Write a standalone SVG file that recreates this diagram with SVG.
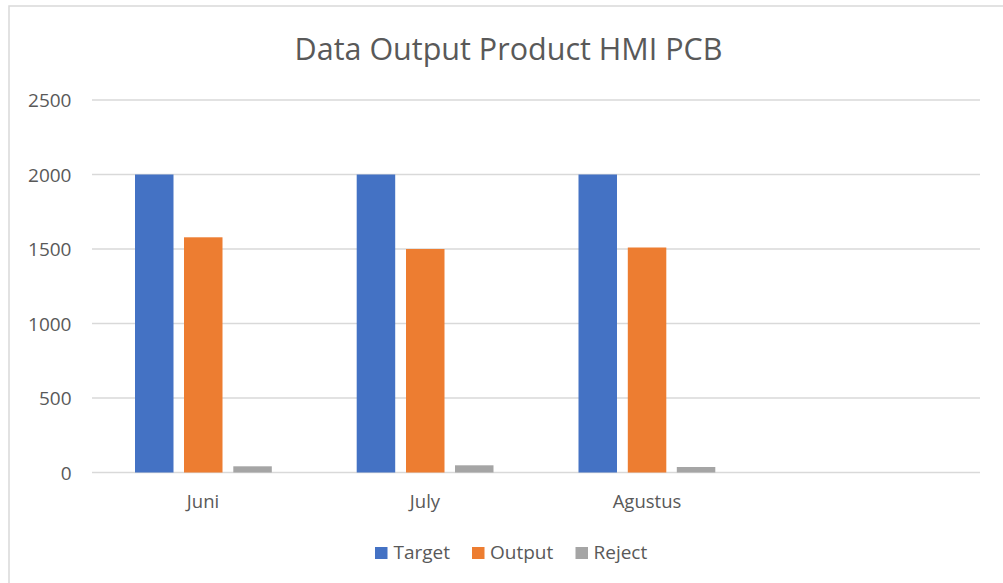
<svg xmlns="http://www.w3.org/2000/svg" width="1003" height="583" viewBox="0 0 1003 583">
<style>
text{font-family:"Open Sans","Liberation Sans",sans-serif;fill:#595959}
.grid{stroke:#d9d9d9;stroke-width:1.5}
.ax{font-size:19px;text-anchor:end}
.cat{font-size:18.5px;text-anchor:middle}
.leg{font-size:19px}
.t{fill:#4472c4}.o{fill:#ed7d31}.r{fill:#a5a5a5}
</style>
<rect x="0" y="0" width="1003" height="583" fill="#fff"/>
<rect x="9" y="6" width="1010" height="600" fill="none" stroke="#d9d9d9" stroke-width="1.5"/>
<text x="508.5" y="60" font-size="30.5" text-anchor="middle">Data Output Product HMI PCB</text>
<g id="gridlines">
<line class="grid" x1="92" y1="100" x2="980" y2="100"/>
<line class="grid" x1="92" y1="174.5" x2="980" y2="174.5"/>
<line class="grid" x1="92" y1="249" x2="980" y2="249"/>
<line class="grid" x1="92" y1="323.5" x2="980" y2="323.5"/>
<line class="grid" x1="92" y1="398" x2="980" y2="398"/>
<line class="grid" x1="92" y1="472.5" x2="980" y2="472.5"/>
</g>
<g id="yaxis">
<text class="ax" x="71.5" y="107">2500</text>
<text class="ax" x="71.5" y="181.5">2000</text>
<text class="ax" x="71.5" y="256">1500</text>
<text class="ax" x="71.5" y="330.5">1000</text>
<text class="ax" x="71.5" y="405">500</text>
<text class="ax" x="71.5" y="479.5">0</text>
</g>
<g id="juni">
<rect class="t" x="135" y="174.5" width="38.5" height="298"/>
<rect class="o" x="184" y="237.3" width="38.5" height="235.2"/>
<rect class="r" x="233.3" y="466.3" width="38.5" height="6.2"/>
<text class="cat" x="203" y="508">Juni</text>
</g>
<g id="july">
<rect class="t" x="356.7" y="174.5" width="38.5" height="298"/>
<rect class="o" x="406" y="249" width="38.5" height="223.5"/>
<rect class="r" x="455" y="465.3" width="38.5" height="7.2"/>
<text class="cat" x="425" y="508">July</text>
</g>
<g id="agustus">
<rect class="t" x="578.5" y="174.5" width="38.5" height="298"/>
<rect class="o" x="627.8" y="247.5" width="38.5" height="225"/>
<rect class="r" x="676.8" y="467" width="38.5" height="5.5"/>
<text class="cat" x="647" y="508">Agustus</text>
</g>
<g id="legend">
<rect class="t" x="375" y="547" width="12.5" height="12"/>
<text class="leg" x="393.5" y="559">Target</text>
<rect class="o" x="472" y="547" width="12.5" height="12"/>
<text class="leg" x="490" y="559">Output</text>
<rect class="r" x="575.5" y="547" width="12.5" height="12"/>
<text class="leg" x="593.5" y="559">Reject</text>
</g>
</svg>
